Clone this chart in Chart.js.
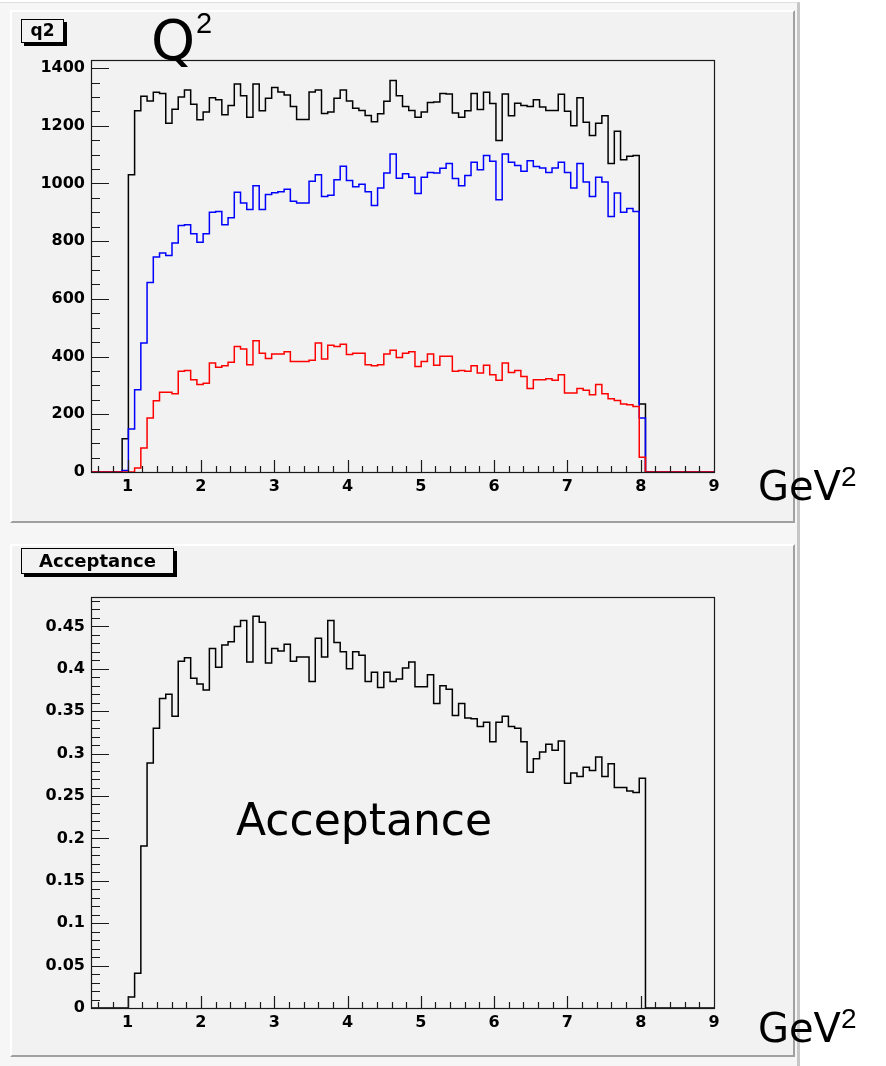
<!DOCTYPE html>
<html>
<head>
<meta charset="utf-8">
<script src="https://cdn.jsdelivr.net/npm/chart.js@4.4.1/dist/chart.umd.min.js"></script>
<style>
  html, body { margin: 0; padding: 0; background: #fff; }
  #page { position: relative; width: 886px; height: 1066px; overflow: hidden; background: #fff; }
  .frame { position: absolute; left: 0; top: 2px; width: 797px; height: 1064px; background: #f6f6f6;
           border-right: 3px solid #c6c6c6; border-top: 1px solid #dedede; }
  .pad { position: absolute; left: 10px; width: 781px; background: #f2f2f2;
         border-top: 2px solid #fff; border-left: 2px solid #fff;
         border-right: 2px solid #a0a0a0; border-bottom: 2px solid #a0a0a0; }
  canvas { position: absolute; left: 0; }
  .tag { position: absolute; background: #f2f2f2; border: 1px solid #000; box-shadow: 3px 3px 0 #000;
         font-family: 'DejaVu Sans', sans-serif; font-weight: bold; color: #000;
         line-height: 1; text-align: center; }
  .hand { position: absolute; font-family: 'Comic Sans MS', 'DejaVu Sans', sans-serif; color: #000; line-height: 1; white-space: nowrap; }
  .hand sup { font-family: 'Liberation Sans Narrow', 'Liberation Sans', Arial, sans-serif; position: relative; vertical-align: baseline; }
</style>
</head>
<body>
<div id="page">
  <div class="frame"></div>
  <div class="pad" style="top:10px; height:509px;"></div>
  <div class="pad" style="top:544px; height:509px;"></div>

  <canvas id="q2Chart" width="760" height="522" style="top:0;"></canvas>
  <canvas id="accChart" width="760" height="526" style="top:540px;"></canvas>

  <div class="tag" style="left:21px; top:19px; width:41px; height:20px; font-size:17px; padding-top:2px;">q2</div>
  <div class="tag" style="left:21px; top:548px; width:151px; height:21px; font-size:18px; padding-top:3px;">Acceptance</div>

  <div class="hand" style="left:151px; top:12px; font-size:56px;">Q<sup style="font-size:29px; top:-26px; left:1px;">2</sup></div>
  <div class="hand" style="left:758px; top:466px; font-size:40px;">GeV<sup style="font-size:28px; top:-14px;">2</sup></div>
  <div class="hand" style="left:758px; top:1008px; font-size:40px;">GeV<sup style="font-size:28px; top:-14px;">2</sup></div>
  <div class="hand" style="left:236px; top:798px; font-size:44px;">Acceptance</div>
</div>

<script>
// histogram binning: 100 bins from 0.5 to 9, values listed from bin 5 (x = 0.925) to bin 88
const X_MIN = 0.5;
const X_MAX = 9;
const N_BINS = 100;
const FIRST_BIN = 5;

const X_TICKS = [1, 2, 3, 4, 5, 6, 7, 8, 9];
const Y_TICKS_Q2 = [0, 200, 400, 600, 800, 1000, 1200, 1400];
const Y_TICKS_ACC = [0, 0.05, 0.1, 0.15, 0.2, 0.25, 0.3, 0.35, 0.4, 0.45];

const allEvents = [
    115, 1030, 1252, 1302, 1286, 1316, 1312, 1209, 1257, 1300,
    1324, 1275, 1221, 1248, 1297, 1290, 1238, 1270, 1345, 1304,
    1230, 1345, 1252, 1295, 1333, 1317, 1307, 1267, 1222, 1222,
    1317, 1324, 1243, 1248, 1295, 1324, 1286, 1261, 1253, 1236,
    1214, 1242, 1285, 1357, 1304, 1267, 1253, 1230, 1248, 1281,
    1282, 1312, 1310, 1244, 1230, 1252, 1312, 1256, 1316, 1277,
    1149, 1310, 1235, 1278, 1270, 1267, 1290, 1265, 1253, 1253,
    1309, 1250, 1200, 1297, 1212, 1166, 1209, 1235, 1069, 1181,
    1082, 1094, 1097, 236
];

const blueEvents = [
    5, 149, 285, 447, 657, 745, 759, 750, 794, 854,
    857, 826, 796, 826, 900, 903, 857, 881, 970, 932,
    910, 992, 910, 962, 968, 971, 980, 938, 932, 932,
    1008, 1030, 955, 959, 1013, 1060, 1010, 989, 997, 971,
    924, 984, 1036, 1102, 1018, 1034, 1022, 965, 1022, 1038,
    1036, 1053, 1069, 1017, 992, 1028, 1074, 1048, 1097, 1077,
    944, 1102, 1074, 1062, 1042, 1079, 1059, 1054, 1038, 1054,
    1074, 1038, 984, 1069, 1005, 955, 1022, 1005, 886, 967,
    900, 913, 903, 187
];

const redEvents = [
    0, 0, 14, 83, 187, 247, 276, 276, 271, 349,
    352, 320, 303, 308, 378, 363, 368, 380, 435, 426,
    372, 455, 412, 393, 409, 409, 417, 383, 383, 383,
    387, 447, 392, 439, 435, 443, 407, 412, 412, 372,
    368, 372, 409, 422, 397, 412, 417, 366, 383, 409,
    370, 401, 401, 349, 352, 349, 368, 343, 370, 337,
    318, 378, 345, 352, 331, 289, 320, 320, 323, 318,
    337, 274, 274, 289, 283, 268, 303, 271, 254, 248,
    236, 233, 227, 51
];

const acceptance = [
    0, 0.013, 0.041, 0.191, 0.289, 0.330, 0.365, 0.370, 0.344, 0.409,
    0.413, 0.389, 0.382, 0.375, 0.424, 0.402, 0.428, 0.432, 0.450, 0.457,
    0.408, 0.462, 0.455, 0.407, 0.424, 0.421, 0.429, 0.409, 0.414, 0.414,
    0.385, 0.436, 0.414, 0.457, 0.431, 0.420, 0.400, 0.420, 0.416, 0.385,
    0.396, 0.378, 0.396, 0.385, 0.388, 0.401, 0.408, 0.379, 0.379, 0.393,
    0.359, 0.380, 0.376, 0.345, 0.359, 0.342, 0.341, 0.332, 0.337, 0.314,
    0.337, 0.344, 0.332, 0.330, 0.314, 0.278, 0.294, 0.302, 0.311, 0.304,
    0.315, 0.265, 0.277, 0.273, 0.284, 0.280, 0.296, 0.273, 0.288, 0.260,
    0.260, 0.256, 0.254, 0.271
];

const AXIS_FONT = { family: "'DejaVu Sans', sans-serif", weight: 'bold', size: 16 };

// one point per lower bin edge, plus the closing edge; drawn as a step line
function histPoints(values) {
    const w = (X_MAX - X_MIN) / N_BINS;
    const pts = [];
    for (let i = 0; i < N_BINS; i++) {
        const v = values[i - FIRST_BIN];
        pts.push({ x: X_MIN + i * w, y: v === undefined ? 0 : v });
    }
    pts.push({ x: X_MAX, y: pts[N_BINS - 1].y });
    return pts;
}

function histSet(values, color, order) {
    return {
        data: histPoints(values),
        borderColor: color,
        borderWidth: 1.5,
        stepped: true,
        pointRadius: 0,
        fill: false,
        order: order
    };
}

// ROOT-like frame with ticks drawn inwards
const rootFrame = {
    id: 'rootFrame',
    afterDraw(chart, args, opts) {
        const { ctx, chartArea: a, scales: { x, y } } = chart;
        ctx.save();
        ctx.strokeStyle = '#1a1a1a';
        ctx.lineWidth = 1.2;
        ctx.strokeRect(a.left + 0.5, a.top + 0.5, a.right - a.left, a.bottom - a.top);

        ctx.beginPath();
        for (let v = 0.6; v < X_MAX - 1e-6; v += 0.2) {
            const px = Math.round(x.getPixelForValue(v)) + 0.5;
            const major = Math.abs(v - Math.round(v)) < 1e-6;
            ctx.moveTo(px, a.bottom);
            ctx.lineTo(px, a.bottom - (major ? 12 : 6));
        }
        for (let v = 0; v <= opts.yMax + 1e-9; v += opts.yMinor) {
            const py = Math.round(y.getPixelForValue(v)) + 0.5;
            const k = v / opts.yMajor;
            const major = Math.abs(k - Math.round(k)) < 1e-6;
            ctx.moveTo(a.left, py);
            ctx.lineTo(a.left + (major ? 18 : 9), py);
        }
        ctx.stroke();
        ctx.restore();
    }
};

function makeOptions(yMax, yTicks, yMajor, yMinor, fmt, pad) {
    return {
        responsive: false,
        animation: false,
        devicePixelRatio: 1,
        layout: { padding: pad },
        plugins: {
            legend: { display: false },
            tooltip: { enabled: false },
            rootFrame: { yMax: yMax, yMajor: yMajor, yMinor: yMinor }
        },
        scales: {
            x: {
                type: 'linear', min: X_MIN, max: X_MAX,
                grid: { display: false, drawTicks: false }, border: { display: false },
                afterBuildTicks: s => { s.ticks = X_TICKS.map(v => ({ value: v })); },
                afterFit: s => { s.height = 30; },
                ticks: { color: '#000', font: AXIS_FONT, padding: 5, maxRotation: 0, autoSkip: false }
            },
            y: {
                type: 'linear', min: 0, max: yMax,
                grid: { display: false, drawTicks: false }, border: { display: false },
                afterBuildTicks: s => { s.ticks = yTicks.map(v => ({ value: v })); },
                afterFit: s => { s.width = 60; },
                ticks: { color: '#000', font: AXIS_FONT, padding: 6, autoSkip: false, callback: fmt }
            }
        }
    };
}

function init() {
    new Chart(document.getElementById('q2Chart'), {
        type: 'line',
        data: {
            datasets: [
                histSet(allEvents, '#000000', 3),
                histSet(blueEvents, '#0000ff', 2),
                histSet(redEvents, '#ff0000', 1)
            ]
        },
        options: makeOptions(1428, Y_TICKS_Q2, 200, 50, v => String(v),
            { left: 31, top: 60, right: 46, bottom: 20 }),
        plugins: [rootFrame]
    });

    new Chart(document.getElementById('accChart'), {
        type: 'line',
        data: { datasets: [histSet(acceptance, '#000000', 1)] },
        options: makeOptions(0.4847, Y_TICKS_ACC, 0.05, 0.01, v => String(+v.toFixed(2)),
            { left: 31, top: 57, right: 46, bottom: 28 }),
        plugins: [rootFrame]
    });
}

document.addEventListener('DOMContentLoaded', init);
</script>
</body>
</html>
